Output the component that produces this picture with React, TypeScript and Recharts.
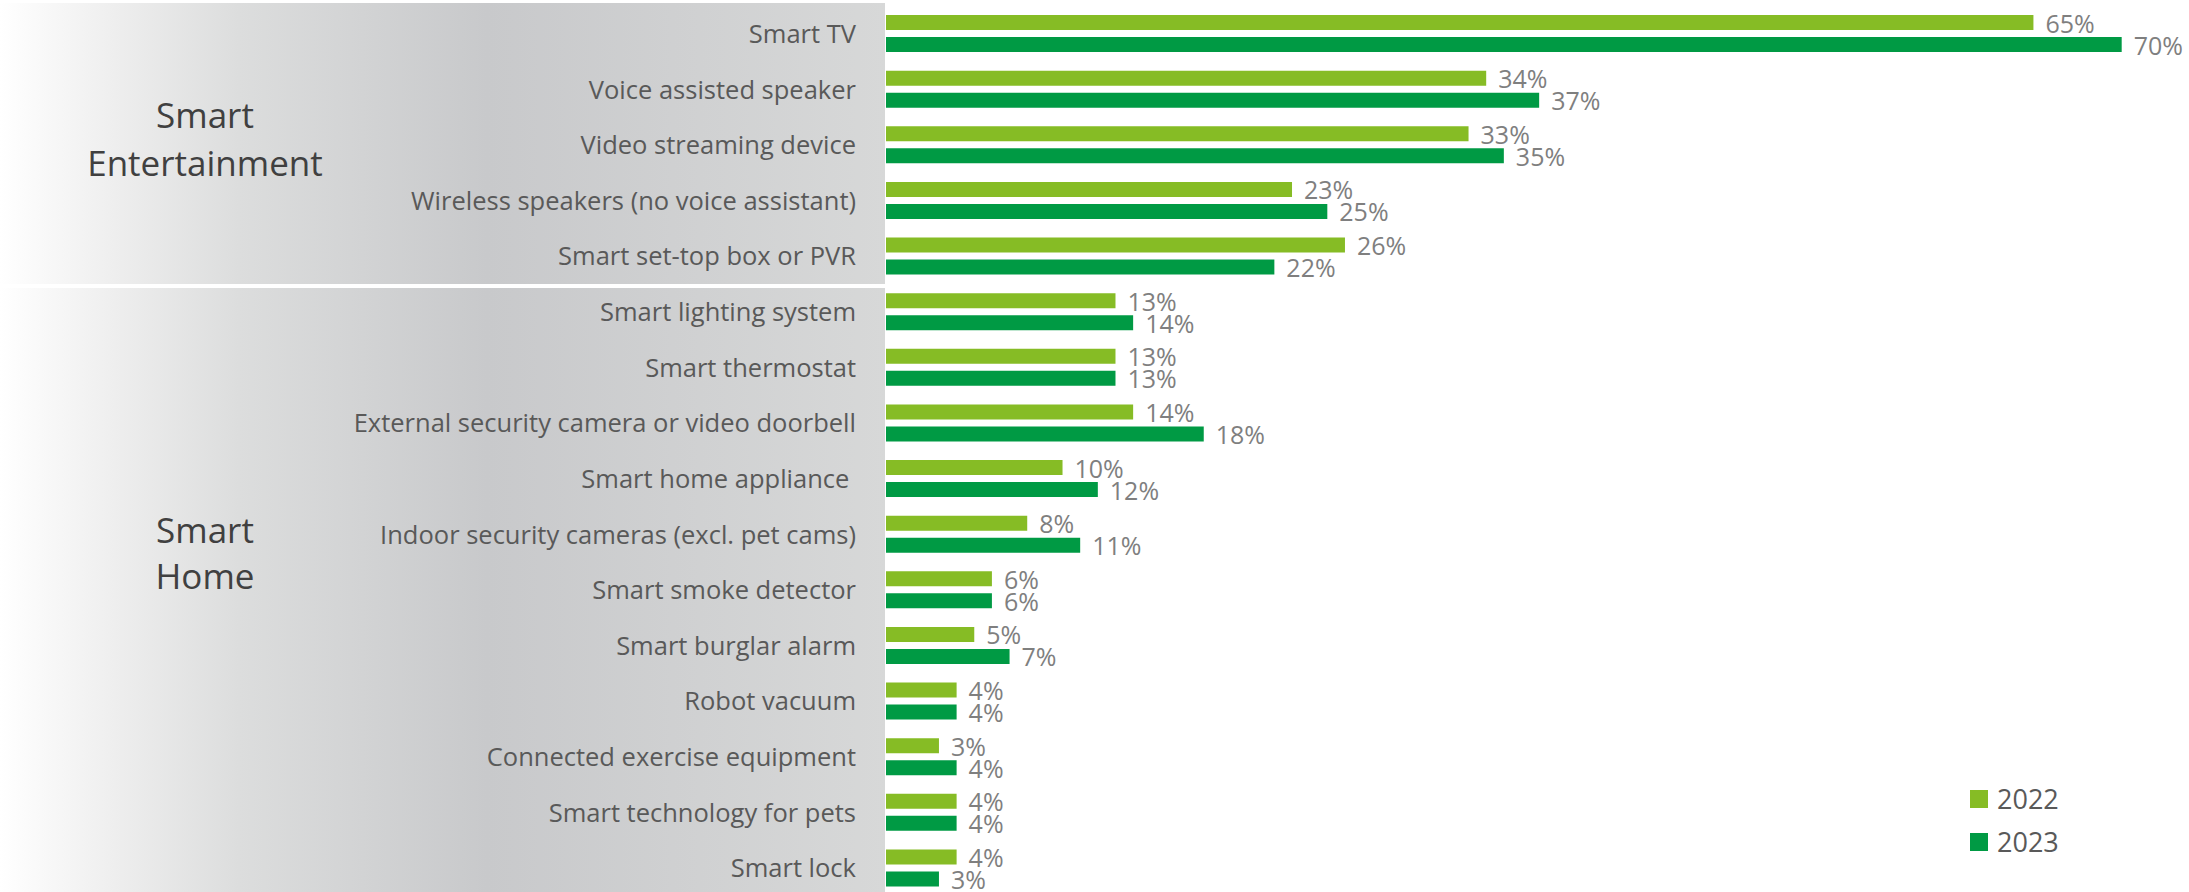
import { BarChart, Bar, XAxis, YAxis, LabelList } from "recharts";

const categories = [
  "Smart TV",
  "Voice assisted speaker",
  "Video streaming device",
  "Wireless speakers (no voice assistant)",
  "Smart set-top box or PVR",
  "Smart lighting system",
  "Smart thermostat",
  "External security camera or video doorbell",
  "Smart home appliance ",
  "Indoor security cameras (excl. pet cams)",
  "Smart smoke detector",
  "Smart burglar alarm",
  "Robot vacuum",
  "Connected exercise equipment",
  "Smart technology for pets",
  "Smart lock",
];
const values2022 = [65, 34, 33, 23, 26, 13, 13, 14, 10, 8, 6, 5, 4, 3, 4, 4];
const values2023 = [70, 37, 35, 25, 22, 14, 13, 18, 12, 11, 6, 7, 4, 4, 4, 3];
const seriesNames = ["2022", "2023"];
const groupNames = [
  ["Smart", "Entertainment"],
  ["Smart", "Home"],
];
const groupSizes = [5, 11];

const COLORS = ["#86BC25", "#009A44"];
const FONT = "'Open Sans', 'Noto Sans', sans-serif";

const W = 2189;
const H = 900;
const M = { top: 6, right: 32, bottom: 4, left: 0 };
const AXIS_W = 886;
const band = (H - M.top - M.bottom) / categories.length;

const data = categories.map((name, i) => ({
  name,
  v2022: values2022[i],
  v2023: values2023[i],
}));

function CategoryTick(props: any) {
  const { x, y, payload } = props;
  return (
    <text
      x={x}
      y={y}
      dy="0.36em"
      textAnchor="end"
      fill="#595959"
      fontSize={25.5}
      fontFamily={FONT}
      style={{ whiteSpace: "pre" }}
    >
      {payload.value}
    </text>
  );
}

function ValueLabel(props: any) {
  const { x, y, width, height, value } = props;
  return (
    <text
      x={x + width + 12}
      y={y + height / 2 + 1}
      dy="0.36em"
      fill="#7F7F7F"
      fontSize={25}
      fontFamily={FONT}
    >
      {value}%
    </text>
  );
}

export default function App() {
  // grey group panels behind the category labels
  const split = M.top + groupSizes[0] * band;
  const panelBg =
    "linear-gradient(to right, #ffffff 0%, #eeeeee 13%, #dcdddd 27%, #c8c9cb 55%, #d7d8d8 100%)";

  return (
    <div style={{ position: "relative", width: W, height: 892, overflow: "hidden", background: "#fff" }}>
      <style>{"body{margin:0}"}</style>
      <div style={{ position: "absolute", left: 0, top: 3, width: 885, height: split - 3.5, background: panelBg }} />
      <div style={{ position: "absolute", left: 0, top: split + 4, width: 885, height: H - split, background: panelBg }} />
      {groupNames.map((lines, gi) => (
        <div
          key={gi}
          style={{
            position: "absolute",
            left: 5,
            width: 400,
            top: gi === 0 ? 91 : 507,
            textAlign: "center",
            fontFamily: FONT,
            fontSize: 35,
            lineHeight: gi === 0 ? "48px" : "46px",
            color: "#404040",
          }}
        >
          {lines.map((l) => (
            <div key={l}>{l}</div>
          ))}
        </div>
      ))}
      <div style={{ position: "absolute", left: 0, top: 0 }}>
        <BarChart width={W} height={H} data={data} layout="vertical" margin={M} barGap={7}>
          <XAxis type="number" domain={[0, 72]} hide />
          <YAxis
            type="category"
            dataKey="name"
            width={AXIS_W}
            axisLine={false}
            tickLine={false}
            tickSize={0}
            tickMargin={30}
            interval={0}
            tick={<CategoryTick />}
          />
          <Bar dataKey="v2022" name={seriesNames[0]} fill={COLORS[0]} barSize={15} isAnimationActive={false}>
            <LabelList dataKey="v2022" content={<ValueLabel />} />
          </Bar>
          <Bar dataKey="v2023" name={seriesNames[1]} fill={COLORS[1]} barSize={15} isAnimationActive={false}>
            <LabelList dataKey="v2023" content={<ValueLabel />} />
          </Bar>
        </BarChart>
      </div>
      {/* legend */}
      <div style={{ position: "absolute", left: 1970, top: 777, fontFamily: FONT }}>
        {seriesNames.map((s, i) => (
          <div key={s} style={{ display: "flex", alignItems: "center", height: 43 }}>
            <span style={{ width: 18, height: 18, background: COLORS[i], marginRight: 9 }} />
            <span style={{ fontSize: 27, color: "#595959" }}>{s}</span>
          </div>
        ))}
      </div>
    </div>
  );
}
